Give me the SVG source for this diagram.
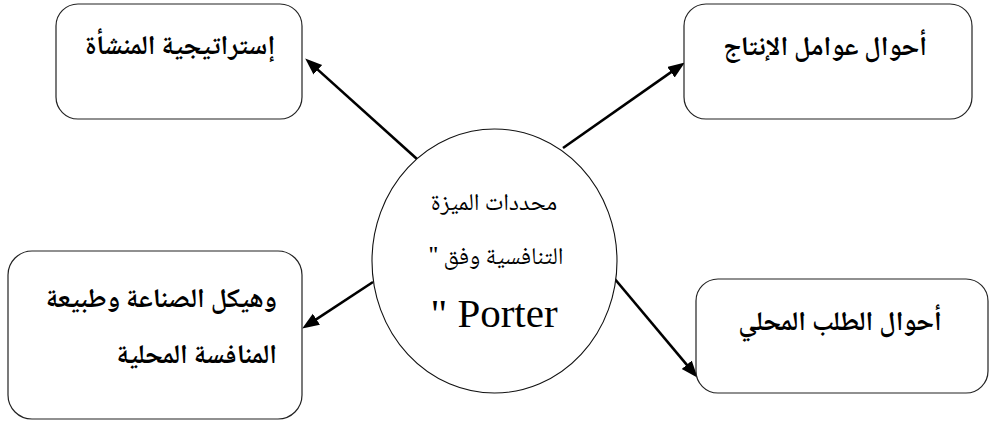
<svg xmlns="http://www.w3.org/2000/svg" width="989" height="423" viewBox="0 0 989 423">
  <style>
    .box { fill: #ffffff; stroke: #222222; stroke-width: 1.2; }
    .hub { fill: #ffffff; stroke: #111111; stroke-width: 1.1; }
    .link { stroke: #000000; stroke-width: 2.6; fill: none; marker-end: url(#head); }
    .lbl { font-family: "Noto Naskh Arabic", "Noto Sans Arabic", "DejaVu Sans", "Noto Sans", sans-serif; font-weight: bold; font-size: 27px; fill: #000000; direction: rtl; }
    .hubtxt { font-family: "Noto Naskh Arabic", "Noto Sans Arabic", "DejaVu Sans", "Noto Sans", serif; font-size: 24px; fill: #000000; direction: rtl; text-anchor: middle; }
    .latin { font-family: "Liberation Serif", serif; font-size: 41px; fill: #000000; text-anchor: middle; }
  </style>
  <defs>
    <marker id="head" markerUnits="userSpaceOnUse" markerWidth="18" markerHeight="14" refX="8" refY="6.5" orient="auto">
      <path d="M0,0 L17,6.5 L0,13 Z" fill="#000000"/>
    </marker>
  </defs>
  <rect width="989" height="423" fill="#ffffff"/>

  <!-- connectors from the hub to each factor -->
  <g id="connectors">
    <path class="link" d="M417,159 L311.9,64.4"/>
    <path class="link" d="M563,148 L677.5,67.6"/>
    <path class="link" d="M373,282 L309.7,323.6"/>
    <path class="link" d="M614,278 L691.9,370.9"/>
  </g>

  <g id="hub">
    <ellipse class="hub" cx="494.5" cy="261" rx="122.5" ry="132"/>
    <text class="hubtxt" x="494" y="210">محددات الميزة</text>
    <text class="hubtxt" x="496" y="264">التنافسية وفق "</text>
    <text class="latin" x="494" y="327" direction="ltr">" Porter</text>
  </g>

  <g id="strategy">
    <rect class="box" x="56" y="4" width="246" height="115" rx="22"/>
    <text class="lbl" x="180" y="54" text-anchor="middle">إستراتيجية المنشأة</text>
  </g>

  <g id="factors">
    <rect class="box" x="684" y="4" width="288" height="115" rx="22"/>
    <text class="lbl" x="825" y="55" text-anchor="middle">أحوال عوامل الإنتاج</text>
  </g>

  <g id="structure">
    <rect class="box" x="8" y="251" width="294" height="168" rx="24"/>
    <text class="lbl" x="277" y="307" text-anchor="start">وهيكل الصناعة وطبيعة</text>
    <text class="lbl" x="277" y="363" text-anchor="start">المنافسة المحلية</text>
  </g>

  <g id="demand">
    <rect class="box" x="696" y="279" width="292" height="114" rx="22"/>
    <text class="lbl" x="840" y="330" text-anchor="middle">أحوال الطلب المحلي</text>
  </g>
</svg>
